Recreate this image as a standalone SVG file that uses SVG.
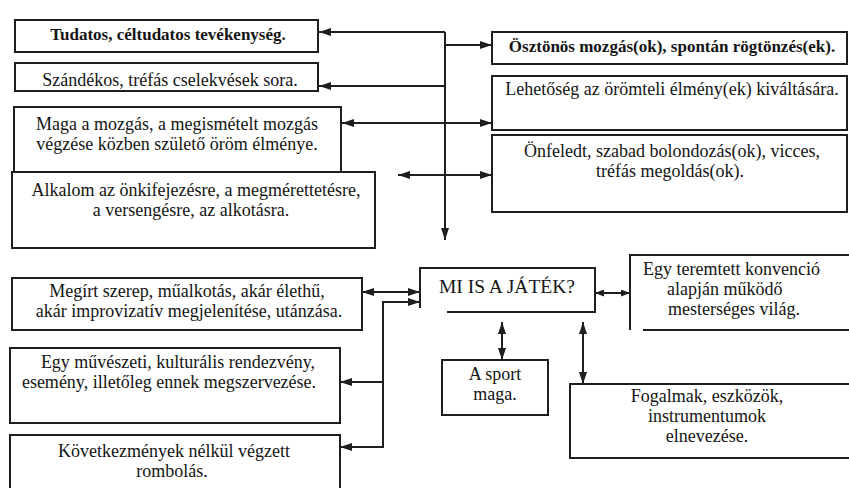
<svg xmlns="http://www.w3.org/2000/svg" width="849" height="488" viewBox="0 0 849 488">
<style>
.bx{fill:none;stroke:#1e1e1e;stroke-width:2}
.ln{fill:none;stroke:#1e1e1e;stroke-width:2}
text{font-family:"Liberation Serif","Times New Roman",serif;font-size:18px;fill:#141414}
.c{text-anchor:middle}
.b{font-weight:bold;font-size:17px}
</style>
<defs>
<marker id="ah" viewBox="0 0 12 8" refX="12" refY="4" markerWidth="12" markerHeight="8" markerUnits="userSpaceOnUse" orient="auto-start-reverse"><path d="M0,0 L12,4 L0,8 z" fill="#1e1e1e"/></marker>
<marker id="as" viewBox="0 0 9 7" refX="9" refY="3.5" markerWidth="9" markerHeight="7" markerUnits="userSpaceOnUse" orient="auto-start-reverse"><path d="M0,0 L9,3.5 L0,7 z" fill="#1e1e1e"/></marker>
</defs>
<rect width="849" height="488" fill="#fff"/>
<g id="connectors">
<path class="ln" d="M445,32 V240" marker-end="url(#ah)"/>
<path class="ln" d="M445,32 H319" marker-end="url(#ah)"/>
<path class="ln" d="M445,45 H492" marker-end="url(#ah)"/>
<path class="ln" d="M445,86 H319" marker-end="url(#ah)"/>
<path class="ln" d="M342,123 H492" marker-start="url(#ah)" marker-end="url(#ah)"/>
<path class="ln" d="M398,175 H492" marker-start="url(#ah)" marker-end="url(#ah)"/>
<path class="ln" d="M362,292 H420" marker-start="url(#ah)" marker-end="url(#ah)"/>
<path class="ln" d="M340,447 H383 V302 H420" marker-start="url(#ah)" marker-end="url(#ah)"/>
<path class="ln" d="M383,382 H340" marker-end="url(#ah)"/>
<path class="ln" d="M595,293 H630" marker-start="url(#as)" marker-end="url(#as)"/>
<path class="ln" d="M502,322 V360" marker-start="url(#ah)" marker-end="url(#ah)"/>
<path class="ln" d="M583,322 V384" marker-start="url(#ah)" marker-end="url(#ah)"/>
</g>
<g id="tudatos"><rect class="bx" x="15" y="20" width="303" height="32"/><text class="c b" x="168" y="40">Tudatos, céltudatos tevékenység.</text></g>
<g id="szandekos"><rect class="bx" x="15" y="63" width="303" height="28"/><text class="c" x="170" y="86">Szándékos, tréfás cselekvések sora.</text></g>
<g id="maga"><rect class="bx" x="14" y="107" width="327" height="65"/><text class="c" x="177" y="130">Maga a mozgás, a megismételt mozgás</text><text class="c" x="177" y="150">végzése közben születő öröm élménye.</text></g>
<g id="alkalom"><rect class="bx" x="12" y="172" width="363" height="76"/><text class="c" x="196" y="196">Alkalom az önkifejezésre, a megmérettetésre,</text><text class="c" x="191" y="216">a versengésre, az alkotásra.</text></g>
<g id="osztonos"><rect class="bx" x="492" y="32" width="355" height="32"/><text class="c b" x="672" y="52">Ösztönös mozgás(ok), spontán rögtönzés(ek).</text></g>
<g id="lehetoseg"><rect class="bx" x="492" y="76" width="355" height="54"/><text class="c" x="672" y="95">Lehetőség az örömteli élmény(ek) kiváltására.</text></g>
<g id="onfeledt"><rect class="bx" x="492" y="135" width="355" height="77"/><text class="c" x="672" y="157">Önfeledt, szabad bolondozás(ok), vicces,</text><text class="c" x="670" y="177">tréfás megoldás(ok).</text></g>
<g id="megirt"><rect class="bx" x="12" y="278" width="350" height="52"/><text class="c" x="187" y="297">Megírt szerep, műalkotás, akár élethű,</text><text class="c" x="189" y="317">akár improvizatív megjelenítése, utánzása.</text></g>
<g id="muveszeti"><rect class="bx" x="10" y="348" width="330" height="75"/><text class="c" x="178" y="368">Egy művészeti, kulturális rendezvény,</text><text class="c" x="169" y="388">esemény, illetőleg ennek megszervezése.</text></g>
<g id="kovetkezmenyek"><rect class="bx" x="10" y="435" width="330" height="60"/><text class="c" x="174" y="457">Következmények nélkül végzett</text><text class="c" x="172" y="477">rombolás.</text></g>
<g id="mi"><path class="bx" d="M420,308 V268 H595 V312 H447"/><text class="c" x="507" y="293" style="font-size:19.5px">MI IS A JÁTÉK?</text></g>
<g id="sport"><rect class="bx" x="442" y="360" width="106" height="55"/><text class="c" x="495" y="380">A sport</text><text class="c" x="495" y="400">maga.</text></g>
<g id="konvencio"><path class="bx" d="M630,330 V255 H851 M643,330 H851"/><text x="643" y="275">Egy teremtett konvenció</text><text x="667" y="295">alapján működő</text><text x="668" y="315">mesterséges világ.</text></g>
<g id="fogalmak"><rect class="bx" x="570" y="384" width="290" height="74"/><text class="c" x="707" y="402">Fogalmak, eszközök,</text><text class="c" x="707" y="422">instrumentumok</text><text class="c" x="707" y="442">elnevezése.</text></g>
</svg>
